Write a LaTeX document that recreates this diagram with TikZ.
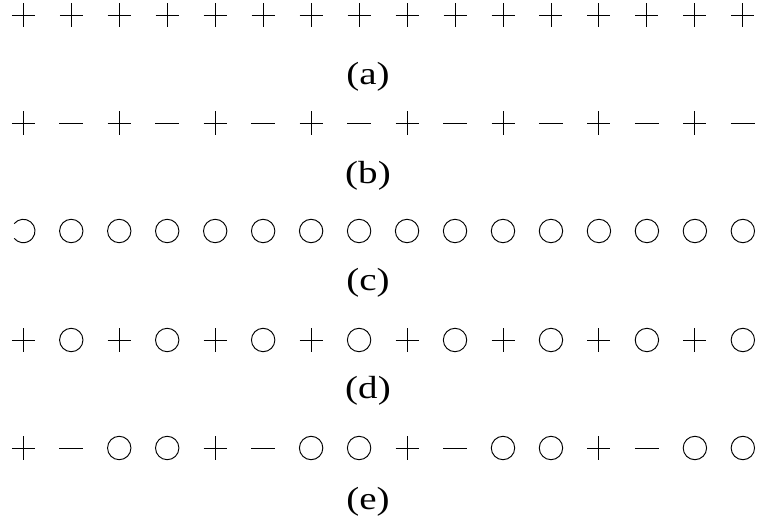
\documentclass[tikz,border=0pt]{standalone}
\usepackage{fontspec}
\setmainfont{Liberation Serif}
\begin{document}
\begin{tikzpicture}[x=1pt,y=-1pt,
  sym/.style={line width=0.95pt,black},
  lab/.style={anchor=base,inner sep=0pt,xscale=1.22,font=\fontsize{32}{38}\selectfont}]
\useasboundingbox (0,0) rectangle (760,518);
% columns: x = 23.3 + 47.97*i
\def\pl#1#2{\draw[sym] (#1-11.5,#2) -- (#1+11.5,#2) (#1,#2-11.7) -- (#1,#2+11.7);}
\def\mi#1#2{\draw[sym] (#1-12,#2) -- (#1+12,#2);}
\def\ci#1#2{\draw[sym] (#1,#2) circle[radius=11.7];}
% row a
\foreach \i in {0,...,15}{\pgfmathsetmacro\xx{23.3+47.97*\i}\pl{\xx}{15}}
% row b
\foreach \i in {0,2,...,14}{\pgfmathsetmacro\xx{23.3+47.97*\i}\pl{\xx}{123}}
\foreach \i in {1,3,...,15}{\pgfmathsetmacro\xx{23.3+47.97*\i}\mi{\xx}{123}}
% row c
\draw[sym] (23.3,231) ++(-141:11.7) arc[start angle=-141,end angle=141,radius=11.7];
\foreach \i in {1,...,15}{\pgfmathsetmacro\xx{23.3+47.97*\i}\ci{\xx}{231}}
% row d
\foreach \i in {0,2,...,14}{\pgfmathsetmacro\xx{23.3+47.97*\i}\pl{\xx}{340}}
\foreach \i in {1,3,...,15}{\pgfmathsetmacro\xx{23.3+47.97*\i}\ci{\xx}{340}}
% row e
\foreach \i in {0,4,8,12}{\pgfmathsetmacro\xx{23.3+47.97*\i}\pl{\xx}{448}}
\foreach \i in {1,5,9,13}{\pgfmathsetmacro\xx{23.3+47.97*\i}\mi{\xx}{448}}
\foreach \i in {2,3,6,7,10,11,14,15}{\pgfmathsetmacro\xx{23.3+47.97*\i}\ci{\xx}{448}}
% labels
\node[lab] (la) at (368,85) {(a)};
\node[lab] (lb) at (368,184) {(b)};
\node[lab] (lc) at (368,291) {(c)};
\node[lab] (ld) at (368,399) {(d)};
\node[lab] (le) at (368,509) {(e)};
\end{tikzpicture}
\end{document}
